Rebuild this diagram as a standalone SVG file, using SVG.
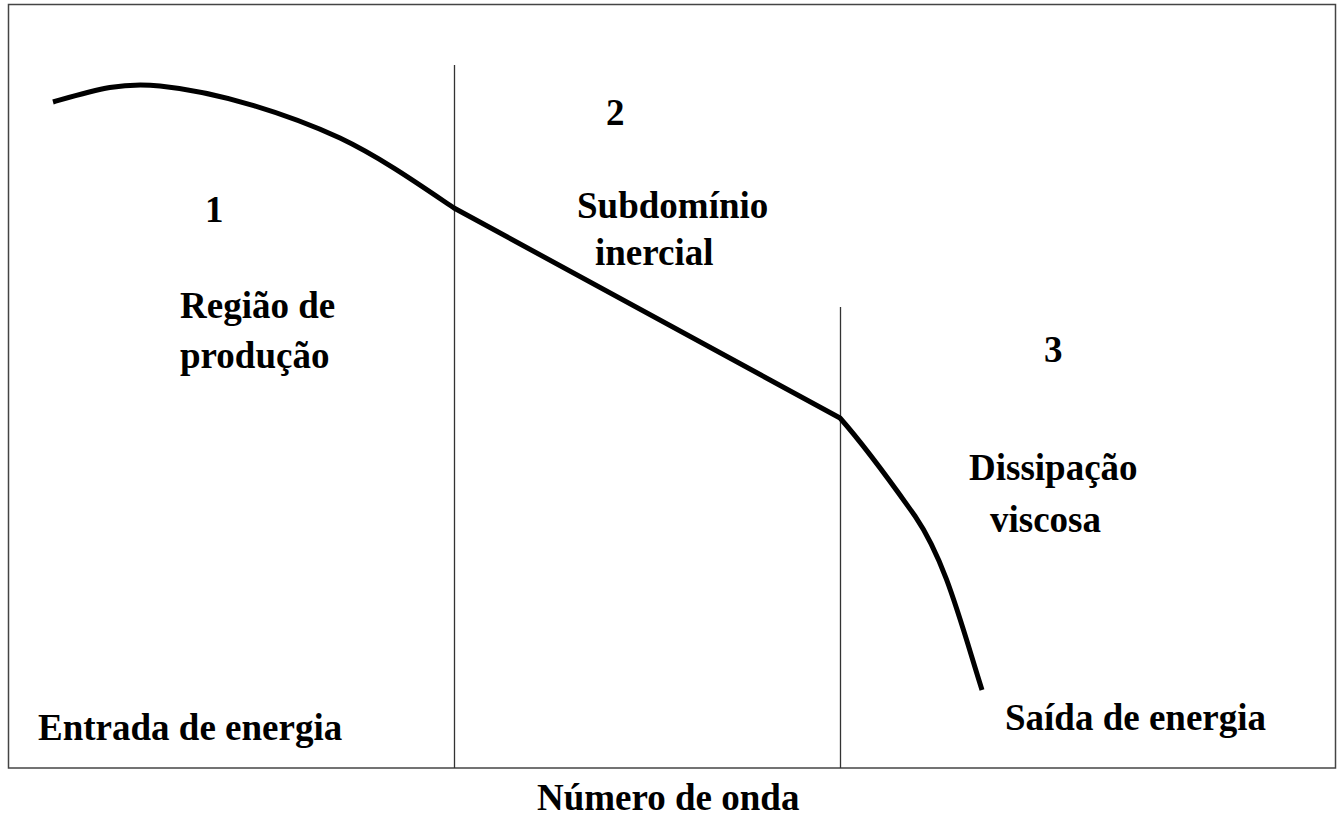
<svg xmlns="http://www.w3.org/2000/svg" width="1337" height="816" viewBox="0 0 1337 816">
<style>
.t{font-family:"Liberation Serif","Times New Roman",serif;font-weight:bold;font-size:37px;fill:#000}
.frame{fill:none;stroke:#444;stroke-width:1.5}
.div{stroke:#333;stroke-width:1.3}
.curve{fill:none;stroke:#000;stroke-width:5;stroke-linejoin:round}
</style>
<rect width="1337" height="816" fill="#fff"/>
<g id="frame"><rect class="frame" x="8.5" y="4.5" width="1327" height="763.5"/></g>
<g id="connectors">
<line class="div" x1="454.5" y1="65" x2="454.5" y2="768"/>
<line class="div" x1="840.5" y1="307" x2="840.5" y2="768"/>
<path class="curve" d="M53,102 C95,90 120,82 160,86 C220,92 290,115 340,138 C380,157 420,185 454,208 L840,418 C870,452 895,488 915,516 C945,560 960,620 982,690"/>
</g>
<g id="region1">
<text class="t" x="205" y="222">1</text>
<text class="t" x="180" y="318">Região de</text>
<text class="t" x="180" y="368">produção</text>
</g>
<g id="region2">
<text class="t" x="606" y="125">2</text>
<text class="t" x="577" y="218">Subdomínio</text>
<text class="t" x="595" y="265">inercial</text>
</g>
<g id="region3">
<text class="t" x="1044" y="362">3</text>
<text class="t" x="969" y="480">Dissipação</text>
<text class="t" x="990" y="532">viscosa</text>
</g>
<g id="labels">
<text class="t" x="38" y="740">Entrada de energia</text>
<text class="t" x="1005" y="730">Saída de energia</text>
<text class="t" x="537" y="810">Número de onda</text>
</g>
</svg>
